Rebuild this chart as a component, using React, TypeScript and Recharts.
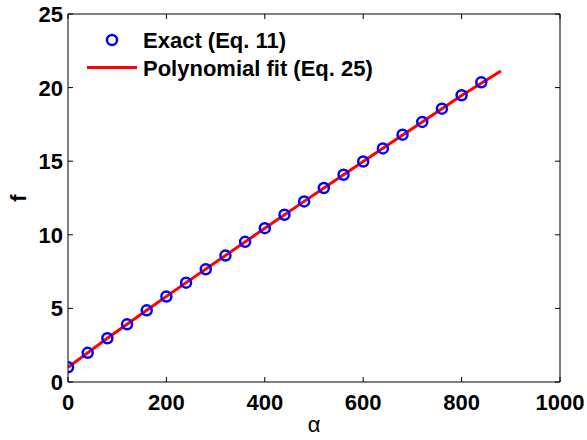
import React from "react";
import { ComposedChart, XAxis, YAxis, Scatter, Line, Legend } from "recharts";

const exactX = [0, 40, 80, 120, 160, 200, 240, 280, 320, 360, 400, 440, 480, 520, 560, 600, 640, 680, 720, 760, 800, 840];
const exactF = [1.0, 1.98, 2.97, 3.92, 4.87, 5.81, 6.75, 7.66, 8.59, 9.52, 10.45, 11.36, 12.27, 13.18, 14.08, 14.98, 15.87, 16.8, 17.67, 18.57, 19.48, 20.36];

const fitX = [0, 80, 160, 240, 320, 400, 480, 560, 640, 720, 800, 880];
const fitF = [1.0, 2.97, 4.88, 6.75, 8.6, 10.44, 12.27, 14.08, 15.88, 17.67, 19.46, 21.13];

const xTicks = [0, 200, 400, 600, 800, 1000];
const yTicks = [0, 5, 10, 15, 20, 25];

const seriesNames = ["Exact (Eq. 11)", "Polynomial fit (Eq. 25)"];
const xLabel = "\u03b1";
const yLabel = "f";

const exactData = exactX.map((x, i) => ({ x, y: exactF[i] }));
const fitData = fitX.map((x, i) => ({ x, y: fitF[i] }));

const FONT = "'Liberation Sans', Arial, Helvetica, sans-serif";
const TICK = 5;

const BottomTick = (p: any) => (
  <g>
    <line x1={p.x} y1={p.y} x2={p.x} y2={p.y - TICK} stroke="#000" strokeWidth={1} />
    <text x={p.x} y={p.y + 28} textAnchor="middle" fontFamily={FONT} fontWeight="bold" fontSize={22} fill="#000">
      {p.payload.value}
    </text>
  </g>
);

const LeftTick = (p: any) => (
  <g>
    <line x1={p.x} y1={p.y} x2={p.x + TICK} y2={p.y} stroke="#000" strokeWidth={1} />
    <text x={p.x - 5} y={p.y + 8} textAnchor="end" fontFamily={FONT} fontWeight="bold" fontSize={22} fill="#000">
      {p.payload.value}
    </text>
  </g>
);

const TopTick = (p: any) => (
  <line x1={p.x} y1={p.y} x2={p.x} y2={p.y + TICK} stroke="#000" strokeWidth={1} />
);

const RightTick = (p: any) => (
  <line x1={p.x} y1={p.y} x2={p.x - TICK} y2={p.y} stroke="#000" strokeWidth={1} />
);

const CircleShape = (p: any) => (
  <circle cx={p.cx} cy={p.cy} r={5} fill="none" stroke="#0000ff" strokeWidth={2.5} />
);

const LegendContent = (props: any) => {
  const items = [...(props.payload || [])].sort((a: any, b: any) =>
    (a.type === "circle" ? 0 : 1) - (b.type === "circle" ? 0 : 1)
  );
  return (
    <svg width={300} height={64} style={{ display: "block" }}>
      {items.map((e: any, i: number) => {
        const cy = 16 + i * 27.5;
        return (
          <g key={i}>
            {e.type === "circle" ? (
              <circle cx={32} cy={cy} r={5} fill="none" stroke="#0000ff" strokeWidth={2.5} />
            ) : (
              <line x1={7} y1={cy} x2={57} y2={cy} stroke="#ff0000" strokeWidth={3} />
            )}
            <text x={63} y={cy + 8} fontFamily={FONT} fontWeight="bold" fontSize={22} fill="#000">
              {e.value}
            </text>
          </g>
        );
      })}
    </svg>
  );
};

const YLabel = (p: any) => {
  const vb = p.viewBox || { x: 0, y: 0, width: 0, height: 0 };
  const cx = vb.x + 18;
  const cy = vb.y + vb.height / 2;
  return (
    <text x={cx} y={cy} transform={`rotate(-90 ${cx} ${cy})`} textAnchor="middle" dominantBaseline="central"
      fontFamily={FONT} fontWeight="bold" fontSize={22} fill="#000">
      {yLabel}
    </text>
  );
};

const XLabel = (p: any) => {
  const vb = p.viewBox || { x: 0, y: 0, width: 0, height: 0 };
  return (
    <text x={vb.x + vb.width / 2} y={vb.y + 50} textAnchor="middle" fontFamily={FONT} fontSize={22} fill="#000">
      {xLabel}
    </text>
  );
};

export default function App() {
  return (
    <div style={{ position: "absolute", left: 0, top: 0, background: "#fff" }}>
      <ComposedChart width={587} height={440} margin={{ top: 13, right: 26, bottom: 0, left: 0 }}>
        <XAxis xAxisId="bottom" orientation="bottom" type="number" dataKey="x" domain={[0, 1000]} ticks={xTicks}
          height={58} tickSize={0} tickMargin={0} tickLine={false} tick={<BottomTick />} interval={0}
          axisLine={{ stroke: "#000", strokeWidth: 1 }} label={<XLabel />} allowDataOverflow />
        <XAxis xAxisId="top" orientation="top" type="number" dataKey="x" domain={[0, 1000]} ticks={xTicks}
          height={1} tickSize={0} tickMargin={0} tickLine={false} tick={<TopTick />} interval={0}
          axisLine={{ stroke: "#000", strokeWidth: 1 }} allowDataOverflow />
        <YAxis yAxisId="left" orientation="left" type="number" dataKey="y" domain={[0, 25]} ticks={yTicks}
          width={68} tickSize={0} tickMargin={0} tickLine={false} tick={<LeftTick />} interval={0}
          axisLine={{ stroke: "#000", strokeWidth: 1 }} label={<YLabel />} allowDataOverflow />
        <YAxis yAxisId="right" orientation="right" type="number" dataKey="y" domain={[0, 25]} ticks={yTicks}
          width={1} tickSize={0} tickMargin={0} tickLine={false} tick={<RightTick />} interval={0}
          axisLine={{ stroke: "#000", strokeWidth: 1 }} allowDataOverflow />
        <Legend content={<LegendContent />} layout="vertical" align="center" verticalAlign="middle"
          wrapperStyle={{ position: "absolute", left: 80, top: 24, width: 300, height: 64 }} />
        <Scatter name={seriesNames[0]} data={exactData} dataKey="y" xAxisId="bottom" yAxisId="left"
          shape={<CircleShape />} legendType="circle" isAnimationActive={false} />
        <Line name={seriesNames[1]} data={fitData} dataKey="y" xAxisId="top" yAxisId="right" type="linear"
          stroke="#ff0000" strokeWidth={3} dot={false} activeDot={false} legendType="line" isAnimationActive={false} />
      </ComposedChart>
    </div>
  );
}
